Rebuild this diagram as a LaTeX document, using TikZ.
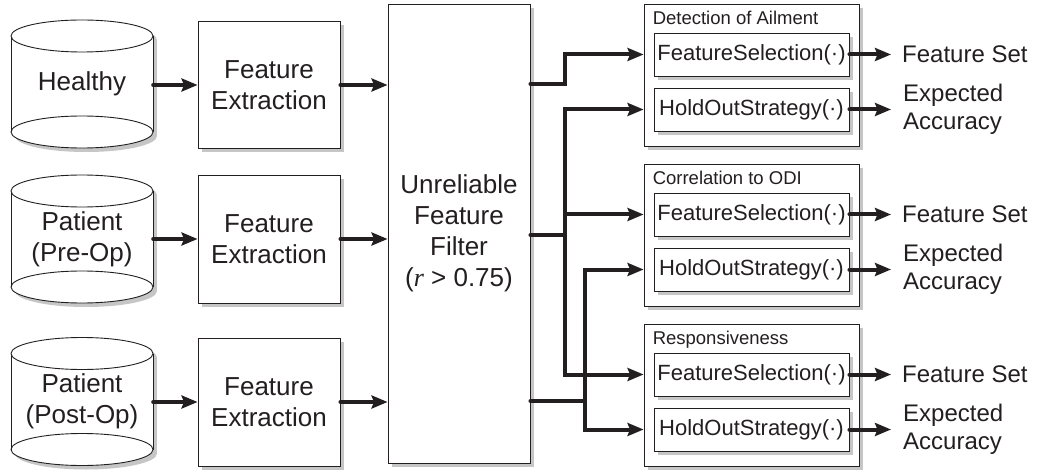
\documentclass[tikz,border=0pt]{standalone}
\usepackage{fontspec}
\setmainfont{Liberation Sans}
\newfontfamily\rmserif{Liberation Serif}
\usetikzlibrary{arrows.meta,calc}

\definecolor{ink}{HTML}{231F20}
\definecolor{shadowgray}{HTML}{C6C6C6}

% font sizes
\newcommand\szL{\fontsize{26}{31}\selectfont}
\newcommand\szM{\fontsize{22}{26}\selectfont}
\newcommand\szO{\fontsize{24}{28.5}\selectfont}
\newcommand\szS{\fontsize{18.5}{22}\selectfont}

\tikzset{
  shadowed/.style={preaction={draw=none, fill=shadowgray, transform canvas={shift={(4pt,-4pt)}}}},
  block/.style={draw=ink, line width=0.9pt, fill=white, shadowed, align=center,
    text=ink, font=\szL, inner sep=0pt, minimum width=142pt},
  dbtext/.style={align=center, text=ink, font=\szL, inner sep=0pt,
    minimum width=142pt, minimum height=128pt},
  group/.style={draw=ink, line width=0.9pt, fill=white, shadowed, inner sep=0pt,
    minimum width=215pt, minimum height=142pt},
  func/.style={draw=ink, line width=0.9pt, fill=white, shadowed, text=ink, font=\szM,
    inner sep=0pt, minimum width=195pt, minimum height=43pt},
  grouptitle/.style={text=ink, font=\szS, inner sep=0pt, anchor=base west},
  result/.style={text=ink, font=\szO, inner sep=0pt, anchor=west, align=left},
  conn/.style={draw=ink, line width=4pt, line cap=round, line join=miter},
  flow/.style={conn, -{Stealth[length=16pt,width=13pt,inset=2.5pt]}},
  flow2/.style={conn, {Stealth[length=16pt,width=13pt,inset=2.5pt]}-{Stealth[length=16pt,width=13pt,inset=2.5pt]}},
}

% database cylinder centred at (#1,#2)
\newcommand\dbdraw[2]{%
  \fill[shadowgray] (#1-67,#2-44) rectangle (#1+75,#2+52);
  \fill[shadowgray] (#1+4,#2-44) ellipse[x radius=71pt, y radius=16pt];
  \fill[shadowgray] (#1+4,#2+52) ellipse[x radius=71pt, y radius=16pt];
  \fill[white] (#1-71,#2-48) rectangle (#1+71,#2+48);
  \fill[white] (#1,#2+48) ellipse[x radius=71pt, y radius=16pt];
  \draw[ink, line width=0.9pt] (#1-71,#2-48) -- (#1-71,#2+48)
                               (#1+71,#2-48) -- (#1+71,#2+48);
  \draw[ink, line width=0.9pt] (#1,#2+48) ellipse[x radius=71pt, y radius=16pt];
  \draw[ink, line width=0.9pt, fill=white] (#1,#2-48) ellipse[x radius=71pt, y radius=16pt];
}

\begin{document}
\begin{tikzpicture}[x=1pt, y=-1pt]
\fill[white] (0,0) rectangle (1040,470);
\useasboundingbox (0,0) rectangle (1040,470);

% data sources
\dbdraw{82}{84}
\dbdraw{82}{239}
\dbdraw{82}{401.5}
\node[dbtext] (db1) at (82,84) {Healthy};
\node[dbtext] (db2) at (82,239) {Patient\\(Pre-Op)};
\node[dbtext] (db3) at (82,401.5) {Patient\\(Post-Op)};

% feature extraction
\node[block, minimum height=127pt] (fe1) at (269,85) {Feature\\Extraction};
\node[block, minimum height=128pt] (fe2) at (269,239) {Feature\\Extraction};
\node[block, minimum height=128pt] (fe3) at (269,402) {Feature\\Extraction};

% filter
\node[block, minimum height=459pt] (filter) at (459,233.5)
  {Unreliable\\Feature\\Filter\\({\rmserif\itshape r} > 0.75)};

% analysis groups
\foreach \g/\top in {1/4, 2/164, 3/324} {
  \node[group] (g\g) at (751.5,\top+71) {};
  \node[func] (fs\g) at (751.5,\top+50.5) {FeatureSelection(·)};
  \node[func] (ho\g) at (751.5,\top+105.5) {HoldOutStrategy(·)};
  \node[result] (set\g) at (902,\top+50.5) {Feature Set};
  \node[result] (acc\g) at (903,\top+105.5) {Expected\\Accuracy};
}
\node[grouptitle] (t1) at ([xshift=9pt, yshift=-21pt]g1.north west) {Detection of Ailment};
\node[grouptitle] (t2) at ([xshift=9pt, yshift=-21pt]g2.north west) {Correlation to ODI};
\node[grouptitle] (t3) at ([xshift=9pt, yshift=-21pt]g3.north west) {Responsiveness};

% trunk positions
\coordinate (ta) at (565,0);
\coordinate (tb) at (585,0);

% left-hand flow
\foreach \i in {1,2,3} {
  \draw[flow] (db\i.east |- fe\i) -- (fe\i.west);
  \draw[flow] (fe\i.east) -- (filter.west |- fe\i);
}

% filter outputs
\draw[flow] (filter.east |- 0,84) -- (ta |- 0,84) |- (g1.west |- fs1);
\draw[conn] (filter.east |- 0,235) -- (ta |- 0,235);
\draw[flow2] (g1.west |- ho1) -- (ta |- ho1) -- (ta |- fs3) -- (g3.west |- fs3);
\draw[flow] (ta |- fs2) -- (g2.west |- fs2);
\draw[conn] (filter.east |- 0,401) -- (tb |- 0,401);
\draw[flow2] (g2.west |- ho2) -- (tb |- ho2) -- (tb |- ho3) -- (g3.west |- ho3);

% results
\foreach \g in {1,2,3} {
  \draw[flow] (fs\g.east) -- ([xshift=-11pt]set\g.west);
  \draw[flow] (ho\g.east) -- ([xshift=-12pt]acc\g.west);
}
\end{tikzpicture}
\end{document}
